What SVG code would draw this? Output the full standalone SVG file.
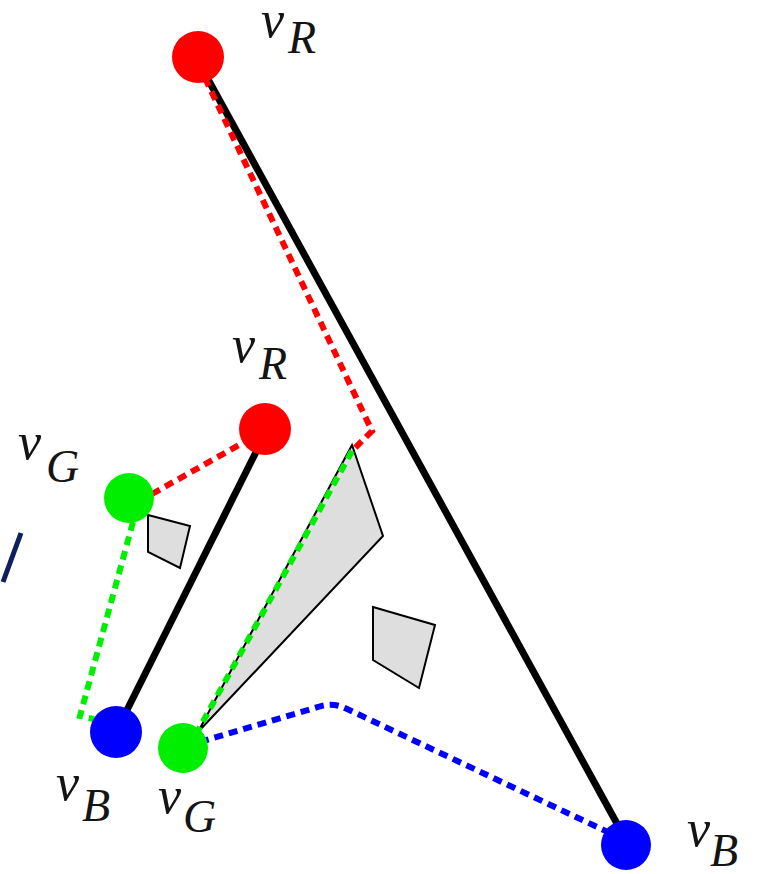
<svg xmlns="http://www.w3.org/2000/svg" width="772" height="874" viewBox="0 0 772 874">
<style>
.lbl{font-family:"Liberation Serif","DejaVu Serif",serif;font-style:italic;fill:#141414}
.v{font-size:52px}
.s{font-size:46px}
.solid{stroke:#000;stroke-width:7;fill:none;stroke-linecap:round}
.dash{stroke-width:6;fill:none;stroke-dasharray:9 6}
.poly{fill:#dedede;stroke:#000;stroke-width:2;stroke-linejoin:miter}
</style>
<rect width="772" height="874" fill="#fff"/>
<line x1="21" y1="533" x2="3" y2="582" stroke="#0d1f5c" stroke-width="5"/>
<g id="regions">
<polygon class="poly" points="352,445 383,536 198,732"/>
<polygon class="poly" points="373,607 435,625 419,688 373,660"/>
<polygon class="poly" points="148,515 190,526 180,568 148,552"/>
</g>
<g id="connectors">
<line class="solid" x1="204" y1="72" x2="626" y2="840"/>
<line class="solid" x1="262" y1="440" x2="118" y2="728"/>
<polyline class="dash" stroke="#ff0000" points="205,78 372,431 352,451"/>
<line class="dash" stroke="#00ee00" x1="352" y1="451" x2="195" y2="736"/>
<path class="dash" stroke="#0000ff" d="M200,742 L318,707 Q332,702 345,708 L612,834"/>
<line class="dash" stroke="#ff0000" x1="152" y1="494" x2="248" y2="440"/>
<polyline class="dash" stroke="#00ee00" points="133,522 80,716 94,719"/>
</g>
<g id="vR1"><circle cx="198" cy="57" r="26" fill="#ff0000"/><text class="lbl"><tspan class="v" x="261" y="37">v</tspan><tspan class="s" x="288" y="53">R</tspan></text></g>
<g id="vR2"><circle cx="265" cy="429" r="26" fill="#ff0000"/><text class="lbl"><tspan class="v" x="232" y="362">v</tspan><tspan class="s" x="259" y="379">R</tspan></text></g>
<g id="vG2"><circle cx="129" cy="498" r="25" fill="#00ee00"/><text class="lbl"><tspan class="v" x="18" y="459">v</tspan><tspan class="s" x="46" y="482">G</tspan></text></g>
<g id="vB2"><circle cx="116" cy="732" r="26" fill="#0000ff"/><text class="lbl"><tspan class="v" x="56" y="800">v</tspan><tspan class="s" x="82" y="821">B</tspan></text></g>
<g id="vG1"><circle cx="183" cy="748" r="25" fill="#00ee00"/><text class="lbl"><tspan class="v" x="158" y="813">v</tspan><tspan class="s" x="183" y="832">G</tspan></text></g>
<g id="vB1"><circle cx="626" cy="845" r="25" fill="#0000ff"/><text class="lbl"><tspan class="v" x="687" y="846">v</tspan><tspan class="s" x="710" y="866">B</tspan></text></g>
</svg>
